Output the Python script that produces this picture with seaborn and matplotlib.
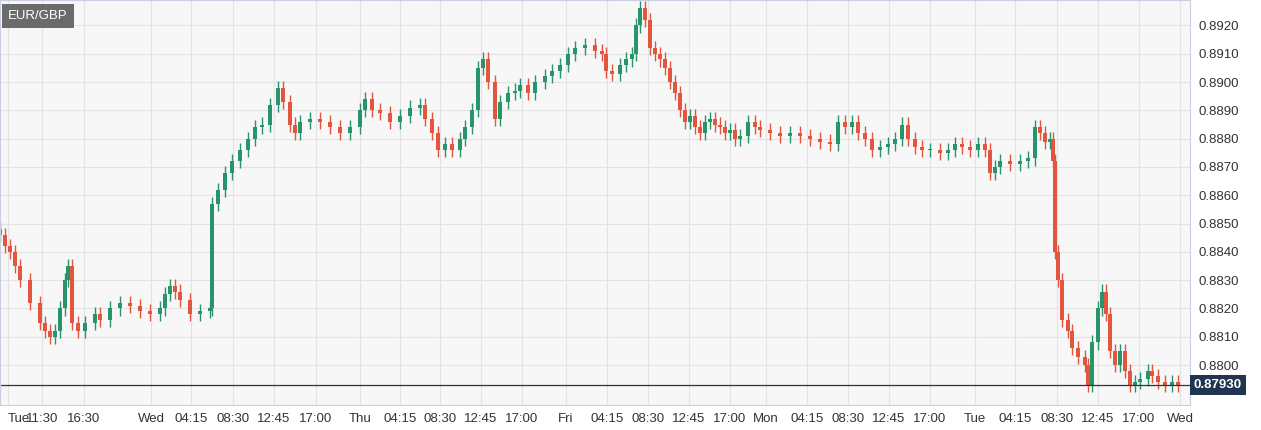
import matplotlib
matplotlib.use("Agg")
import matplotlib.pyplot as plt
import seaborn as sns
import numpy as np

sns.set_style("whitegrid")
plt.rcParams['font.family'] = ['Liberation Sans', 'DejaVu Sans']

# time slot (chart time units) and close prices
slot = [0,5,10,15,20,30,40,45,50,55,60,65,68,72,78,85,95,100,110,120,130,140,150,160,165,170,175,180,190,200,210,
        212,218,225,232,240,248,255,262,270,278,283,290,295,300,310,320,330,340,350,360,365,372,380,390,400,410,420,
        425,432,438,445,452,460,465,472,478,483,488,495,500,508,515,520,528,535,545,552,560,568,575,585,595,602,606,
        612,620,626,632,636,640,645,650,655,660,665,670,675,680,685,690,695,700,705,710,715,720,725,730,735,740,
        748,755,760,770,780,790,800,810,820,830,838,845,852,858,865,872,880,888,895,902,908,915,922,930,940,948,955,
        962,970,978,985,990,995,1000,1010,1020,1028,1035,1040,1045,1050,1053,1055,1058,1062,1068,1072,1078,1085,1088,
        1092,1098,1102,1106,1110,1115,1120,1125,1130,1135,1140,1148,1152,1158,1165,1172,1178]
close = [0.8846,0.8842,0.8840,0.8835,0.8830,0.8822,0.8815,0.8812,0.8810,0.8812,0.8820,0.8830,0.8835,0.8815,0.8812,
         0.8815,0.8818,0.8816,0.8820,0.8822,0.8821,0.8819,0.8818,0.8820,0.8825,0.8828,0.8826,0.8823,0.8818,0.8819,0.8820,
         0.8857,0.8862,0.8868,0.8872,0.8876,0.8880,0.8884,0.8885,0.8892,0.8898,0.8893,0.8885,0.8882,0.8886,0.8887,0.8886,
         0.8884,0.8882,0.8884,0.8890,0.8894,0.8890,0.8889,0.8886,0.8888,0.8891,0.8892,0.8887,0.8882,0.8876,0.8878,0.8876,
         0.8880,0.8884,0.8890,0.8905,0.8908,0.8900,0.8887,0.8893,0.8896,0.8897,0.8899,0.8896,0.8900,0.8902,0.8904,0.8906,
         0.8910,0.8912,0.8913,0.8911,0.8910,0.8904,0.8903,0.8906,0.8908,0.8910,0.8920,0.8926,0.8922,0.8912,0.8910,0.8908,
         0.8905,0.8900,0.8896,0.8890,0.8886,0.8888,0.8884,0.8882,0.8886,0.8887,0.8885,0.8884,0.8882,0.8883,0.8880,0.8881,
         0.8886,0.8884,0.8883,0.8882,0.8881,0.8882,0.8881,0.8880,0.8879,0.8878,0.8886,0.8884,0.8886,0.8882,0.8880,0.8876,
         0.8877,0.8878,0.8880,0.8885,0.8880,0.8877,0.8876,0.8876,0.8875,0.8876,0.8878,0.8877,0.8876,0.8878,0.8876,0.8868,
         0.8870,0.8872,0.8871,0.8872,0.8873,0.8884,0.8882,0.8879,0.8880,0.8872,0.8840,0.8830,0.8816,0.8812,0.8806,0.8803,
         0.8800,0.8793,0.8808,0.8820,0.8826,0.8818,0.8805,0.8800,0.8805,0.8798,0.8793,0.8794,0.8795,0.8798,0.8796,0.8794,
         0.8793,0.8794,0.8793]
first_open = 0.8848
tick_slots = [8,42,84,151,191,233,274,316,360,400,440,481,522,566,607,648,689,730,766,807,848,889,930,975,1015,1057,1098,1139,1180]
tick_labels = ["Tue","11:30","16:30","Wed","04:15","08:30","12:45","17:00","Thu","04:15","08:30","12:45","17:00",
               "Fri","04:15","08:30","12:45","17:00","Mon","04:15","08:30","12:45","17:00","Tue","04:15","08:30",
               "12:45","17:00","Wed"]
last_price = 0.87930
pair = "EUR/GBP"

opens = [first_open] + close[:-1]
up_c, dn_c = "#27946a", "#e2553f"

fig = plt.figure(figsize=(12.61, 4.30), dpi=100)
ax = fig.add_axes([0, 25/430, 1190/1261, 405/430])
ax.set_facecolor("#f7f7f7")
for s, o, c in zip(slot, opens, close):
    col = up_c if c >= o else dn_c
    hi, lo = max(o, c) + 0.00025, min(o, c) - 0.00025
    ax.vlines(s, lo, hi, color=col, lw=1)
    ax.bar(s, max(abs(c - o), 0.00003), bottom=min(o, c), width=3.5, color=col, linewidth=0)

ax.set_xlim(0, 1190)
ax.set_ylim(0.87859, 0.89290)
ax.set_yticks(np.arange(0.8800, 0.89201, 0.0010))
ax.yaxis.set_major_formatter(matplotlib.ticker.FormatStrFormatter("%.4f"))
ax.yaxis.tick_right()
ax.set_xticks(tick_slots)
ax.set_xticklabels(tick_labels)
ax.get_xticklabels()[0].set_horizontalalignment("left")
ax.get_xticklabels()[0].set_x(0)
ax.tick_params(labelsize=9.5, colors="#333333", length=0, pad=6)
ax.grid(color="#e3e3e3", lw=0.8)
for sp in ax.spines.values():
    sp.set_color("#c8d0e0")
ax.axhline(last_price, color="#333333", lw=0.9)
ax.text(1.003, last_price, f"{last_price:.5f}", transform=ax.get_yaxis_transform(), va="center", ha="left",
        color="white", fontsize=9.5, fontweight="bold",
        bbox=dict(boxstyle="square,pad=0.3", fc="#1f3550", ec="none"))
ax.text(0.007, 0.96, pair, transform=ax.transAxes, va="center", ha="left", color="white", fontsize=9.5,
        bbox=dict(boxstyle="square,pad=0.45", fc="#6b6b6b", ec="none"))
fig.savefig("out.png", dpi=100)
